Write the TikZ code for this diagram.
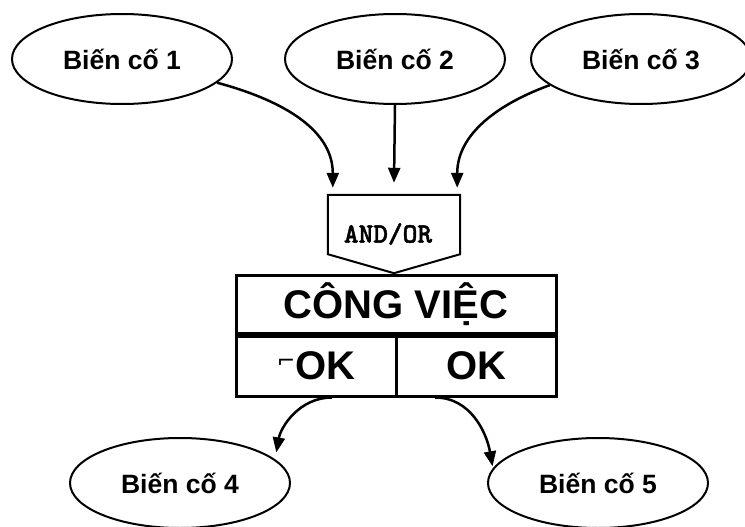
\documentclass[tikz,border=0pt]{standalone}
\usepackage{fontspec}
\setmainfont{Liberation Sans}
\newfontfamily\symfont{DejaVu Sans}
\newfontfamily\gatefont{lmmonolt10-bold.otf}[FakeBold=1.5]
\usetikzlibrary{positioning,arrows.meta,shapes.geometric}

\begin{document}
\begin{tikzpicture}[
        %Environment config
        x=1pt, y=-1pt,
        font=\bfseries,
        %Environment styles
        EventCfg/.style={
            ellipse, draw, line width=2pt,
            minimum width=220pt, minimum height=90pt,
            font=\fontsize{26.5}{30}\selectfont\bfseries
        },
        CellCfg/.style={
            rectangle, draw, line width=3pt, inner sep=0pt,
            font=\fontsize{40}{46}\selectfont\bfseries
        },
        ArrowCfg/.style={
            -{Triangle[length=15pt,width=12pt]},
            line width=2.5pt
        }
    ]
    \useasboundingbox (0,0) rectangle (745,527);
    \path
        (122,59) node[EventCfg](EV1){Biến cố 1}
        (395,59) node[EventCfg](EV2){Biến cố 2}
        (641,59) node[EventCfg](EV3){Biến cố 3}
        (394,234) node[minimum width=132pt, minimum height=78pt, inner sep=0pt,
            font=\fontsize{28}{30}\selectfont\gatefont](GATE){\hspace*{-12pt}AND/OR}
        (396,304) node[CellCfg, minimum width=320pt, minimum height=58pt](JOB){CÔNG VIỆC}
        (JOB.south west) node[CellCfg, minimum width=160pt, minimum height=60pt,
            anchor=north west](NOK){\raisebox{11pt}{\symfont\mdseries\fontsize{22}{24}\selectfont ⌐}OK}
        (JOB.south east) node[CellCfg, minimum width=160pt, minimum height=60pt,
            anchor=north east](OK){OK}
        (180,483) node[EventCfg](EV4){Biến cố 4}
        (598,483) node[EventCfg](EV5){Biến cố 5};

    % gate outline
    \draw[line width=2pt]
        (GATE.north west) -- (GATE.north east)
        -- ([yshift=19pt]GATE.south east) -- (GATE.south)
        -- ([yshift=19pt]GATE.south west) -- cycle;

    \draw[ArrowCfg]
        (EV1.-14) to[out=-15,in=90] ([xshift=5pt,yshift=7pt]GATE.north west);
    \draw[ArrowCfg]
        (EV2.south) -- ([yshift=12pt]GATE.north);
    \draw[ArrowCfg]
        (EV3.196) to[out=200,in=90] ([xshift=-3pt,yshift=7pt]GATE.north east);
    \draw[ArrowCfg, shorten >=7pt]
        ([xshift=16pt]NOK.south) to[out=180,in=80] (EV4.14);
    \draw[ArrowCfg, shorten >=2pt]
        ([xshift=-41pt]OK.south) to[out=0,in=100] (EV5.172);
\end{tikzpicture}
\end{document}
